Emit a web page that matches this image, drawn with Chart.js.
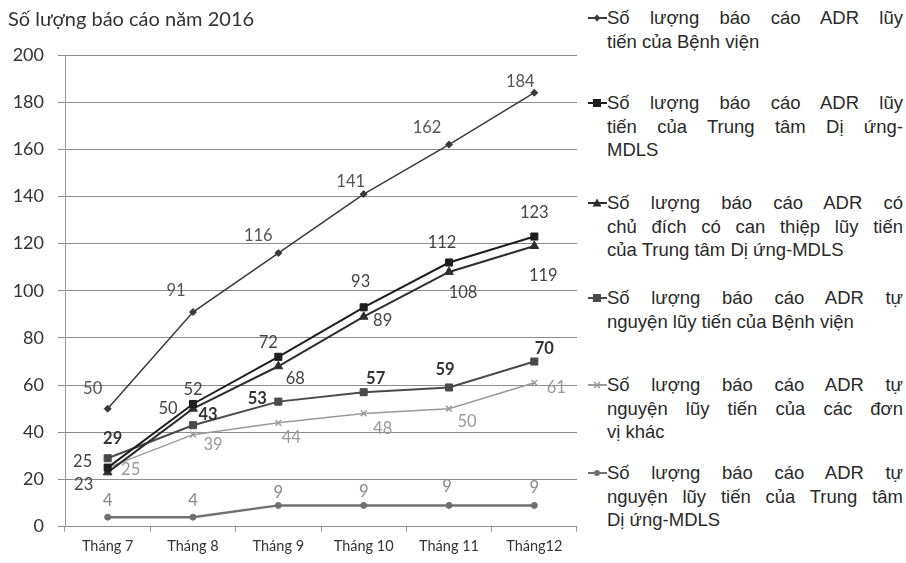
<!DOCTYPE html>
<html>
<head>
<meta charset="utf-8">
<script src="https://cdn.jsdelivr.net/npm/chart.js@4.4.1/dist/chart.umd.min.js"></script>
<style>
  body { margin: 0; background: #fff; }
  #wrap { position: relative; width: 906px; height: 563px; }
  #chartBox { position: absolute; left: 0; top: 0; width: 585px; height: 563px; }
  #legend { position: absolute; left: 588px; top: 0; width: 318px; height: 563px;
    font-family: "Liberation Sans", Arial, sans-serif; font-size: 18.5px; color: #2a2a2a; }
  .item { position: absolute; left: 0; width: 315px; }
  .item svg { position: absolute; left: 0; top: 6px; }
  .line { margin-left: 19px; width: 296px; line-height: 23.5px; height: 23.5px; white-space: nowrap; }
  .line.j { text-align: justify; text-align-last: justify; white-space: normal; }
</style>
</head>
<body>
<div id="wrap">
  <div id="chartBox"><canvas id="chart"></canvas></div>
  <div id="legend"></div>
</div>
<script>
const months = ['Tháng 7', 'Tháng 8', 'Tháng 9', 'Tháng 10', 'Tháng 11', 'Tháng12'];

const benhVienLuyTien = [50, 91, 116, 141, 162, 184];
const trungTamLuyTien = [25, 52, 72, 93, 112, 123];
const chuDichLuyTien = [23, 50, 68, 89, 108, 119];
const tuNguyenBenhVien = [29, 43, 53, 57, 59, 70];
const tuNguyenDonViKhac = [25, 39, 44, 48, 50, 61];
const tuNguyenTrungTam = [4, 4, 9, 9, 9, 9];

const seriesLabels = [
    'Số lượng báo cáo ADR lũy\ntiến của Bệnh viện',
    'Số lượng báo cáo ADR lũy\ntiến của Trung tâm Dị ứng-\nMDLS',
    'Số lượng báo cáo ADR có\nchủ đích có can thiệp lũy tiến\ncủa Trung tâm Dị ứng-MDLS',
    'Số lượng báo cáo ADR tự\nnguyện lũy tiến của Bệnh viện',
    'Số lượng báo cáo ADR tự\nnguyện lũy tiến của các đơn\nvị khác',
    'Số lượng báo cáo ADR tự\nnguyện lũy tiến của Trung tâm\nDị ứng-MDLS'
];
const chartTitle = 'Số lượng báo cáo năm 2016';

// look of each series: line, marker, value label colour and where each label sits next to its point
const styles = [
    { color: '#3a3a3a', width: 1.5, point: 'rectRot', r: 3.5, label: '#555', bold: false,
      offsets: [[-15, -20], [-17, -21], [-20, -17], [-13, -12], [-22, -17], [-14, -11]] },
    { color: '#1e1e1e', width: 2, point: 'rect', r: 5, label: '#444', bold: false,
      offsets: [[-25, -6], [0, -14], [-10, -14], [-3, -26], [-7, -20], [0, -24]] },
    { color: '#2e2e2e', width: 2, point: 'triangle', r: 5, label: '#444', bold: false,
      offsets: [[-24, 12], [-25, 0], [17, 12], [19, 4], [14, 21], [9, 30]] },
    { color: '#4a4a4a', width: 2, point: 'rect', r: 5, label: '#333', bold: true,
      offsets: [[5, -20], [15, -11], [-21, -3], [12, -14], [-4, -18], [10, -13]] },
    { color: '#9a9a9a', width: 1.5, point: 'crossRot', r: 4, label: '#999', bold: false,
      offsets: [[23, 2], [20, 10], [13, 15], [19, 15], [18, 13], [22, 5]] },
    { color: '#707070', width: 2.5, point: 'circle', r: 3, label: '#888', bold: false,
      offsets: [[0, -16], [0, -16], [0, -13], [0, -14], [-2, -19], [0, -18]] }
];
const legendTops = [6, 91, 191, 286, 373, 461];

const seriesData = [benhVienLuyTien, trungTamLuyTien, chuDichLuyTien, tuNguyenBenhVien, tuNguyenDonViKhac, tuNguyenTrungTam];

const pointLabels = {
    id: 'pointLabels',
    afterDatasetsDraw(chart) {
        const ctx = chart.ctx;
        chart.data.datasets.forEach((ds, i) => {
            const s = styles[i];
            const meta = chart.getDatasetMeta(i);
            ctx.save();
            ctx.font = (s.bold ? 'bold ' : '') + '16.5px Lato, sans-serif';
            ctx.fillStyle = s.label;
            ctx.textAlign = 'center';
            ctx.textBaseline = 'middle';
            meta.data.forEach((pt, j) => {
                const [dx, dy] = s.offsets[j];
                ctx.fillText(String(ds.data[j]), pt.x + dx, pt.y + dy);
            });
            ctx.restore();
        });
    }
};

new Chart(document.querySelector('#chart').getContext('2d'), {
    type: 'line',
    data: {
        labels: months,
        datasets: seriesData.map((values, i) => ({
            label: seriesLabels[i].replace(/\n/g, ' '),
            data: values,
            borderColor: styles[i].color,
            backgroundColor: styles[i].color,
            borderWidth: styles[i].width,
            pointStyle: styles[i].point,
            pointRadius: styles[i].r,
            pointBorderWidth: styles[i].point === 'crossRot' ? 1.5 : 1,
            tension: 0
        }))
    },
    options: {
        responsive: true,
        maintainAspectRatio: false,
        animation: false,
        layout: { padding: { left: 8, right: 8, top: 0, bottom: 2 } },
        plugins: {
            legend: { display: false },
            tooltip: { enabled: false },
            title: {
                display: true,
                text: chartTitle,
                align: 'start',
                color: '#333',
                font: { family: 'Lato', size: 20, weight: 'normal' },
                padding: { top: 8, bottom: 23 }
            }
        },
        scales: {
            x: {
                offset: true,
                grid: { offset: true, drawOnChartArea: false, tickLength: 5, color: '#999' },
                border: { display: false },
                ticks: { color: '#333', font: { family: 'Lato', size: 14.5 }, padding: 6 }
            },
            y: {
                min: 0,
                max: 200,
                afterFit: s => { s.width = 57; },
                grid: { color: '#8c8c8c', lineWidth: 1, tickLength: 7 },
                border: { display: true, color: '#999' },
                ticks: { stepSize: 20, color: '#333', font: { family: 'Lato', size: 18 }, padding: 14 }
            }
        }
    },
    plugins: [pointLabels]
});

// legend at the right, lines broken the way the original is
const legend = document.querySelector('#legend');
seriesLabels.forEach((text, i) => {
    const st = styles[i];
    const item = document.createElement('div');
    item.className = 'item';
    item.style.top = legendTops[i] + 'px';
    const c = st.color;
    let mark = '';
    if (st.point === 'rectRot') mark = `<polygon points="9,2.5 12.5,6 9,9.5 5.5,6" fill="${c}"/>`;
    else if (st.point === 'rect') mark = `<rect x="5" y="2" width="8" height="8" fill="${c}"/>`;
    else if (st.point === 'triangle') mark = `<polygon points="9,1.5 13.5,9.5 4.5,9.5" fill="${c}"/>`;
    else if (st.point === 'crossRot') mark = `<path d="M6,3 L12,9 M12,3 L6,9" stroke="${c}" stroke-width="1.5"/>`;
    else mark = `<circle cx="9" cy="6" r="3" fill="${c}"/>`;
    let html = `<svg width="19" height="12"><line x1="0" y1="6" x2="19" y2="6" stroke="${c}" stroke-width="2"/>${mark}</svg>`;
    const lines = text.split('\n');
    lines.forEach((ln, k) => {
        html += `<div class="line${k < lines.length - 1 ? ' j' : ''}">${ln}</div>`;
    });
    item.innerHTML = html;
    legend.appendChild(item);
});
</script>
</body>
</html>
